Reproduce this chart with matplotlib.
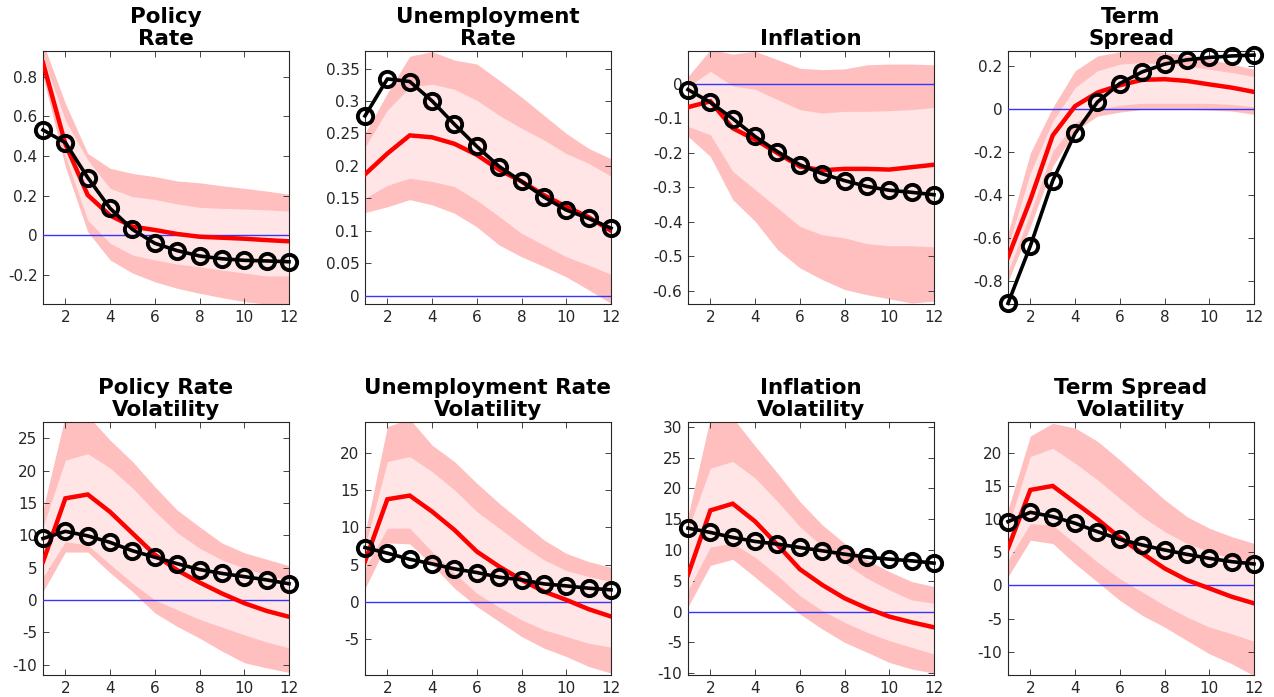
import matplotlib
matplotlib.use("Agg")
import matplotlib.pyplot as plt
from matplotlib.ticker import MultipleLocator, FuncFormatter

plt.rcParams.update({"font.family": "DejaVu Sans", "axes.unicode_minus": False})

# horizon
h = list(range(1, 13))

# Policy rate
pr_black = [0.531, 0.467, 0.291, 0.136, 0.030, -0.040, -0.077, -0.104, -0.118, -0.126, -0.129, -0.133]
pr_red = [0.870, 0.460, 0.203, 0.100, 0.044, 0.027, 0.007, -0.007, -0.012, -0.017, -0.024, -0.030]
pr_out_hi = [0.970, 0.665, 0.413, 0.338, 0.312, 0.296, 0.274, 0.265, 0.250, 0.237, 0.223, 0.207]
pr_in_hi = [0.900, 0.580, 0.380, 0.237, 0.195, 0.181, 0.158, 0.141, 0.136, 0.133, 0.128, 0.123]
pr_in_lo = [0.840, 0.400, 0.077, -0.040, -0.099, -0.124, -0.145, -0.158, -0.175, -0.190, -0.205, -0.205]
pr_out_lo = [0.800, 0.346, 0.018, -0.124, -0.190, -0.234, -0.267, -0.292, -0.314, -0.334, -0.346, -0.351]

# Unemployment rate
ur_black = [0.277, 0.334, 0.330, 0.300, 0.264, 0.230, 0.199, 0.176, 0.152, 0.132, 0.119, 0.104]
ur_red = [0.187, 0.219, 0.247, 0.244, 0.234, 0.217, 0.194, 0.176, 0.155, 0.137, 0.121, 0.100]
ur_out_hi = [0.250, 0.312, 0.369, 0.376, 0.363, 0.357, 0.332, 0.306, 0.278, 0.250, 0.227, 0.211]
ur_in_hi = [0.229, 0.286, 0.321, 0.326, 0.318, 0.301, 0.278, 0.258, 0.240, 0.219, 0.204, 0.184]
ur_in_lo = [0.150, 0.170, 0.181, 0.176, 0.168, 0.147, 0.122, 0.096, 0.078, 0.060, 0.047, 0.033]
ur_out_lo = [0.128, 0.137, 0.148, 0.140, 0.127, 0.106, 0.078, 0.060, 0.045, 0.029, 0.009, -0.012]

# Inflation
inf_black = [-0.017, -0.054, -0.101, -0.153, -0.197, -0.235, -0.261, -0.281, -0.298, -0.309, -0.315, -0.322]
inf_red = [-0.068, -0.051, -0.129, -0.162, -0.201, -0.240, -0.251, -0.247, -0.247, -0.249, -0.242, -0.235]
inf_out_hi = [0.021, 0.099, 0.086, 0.094, 0.070, 0.045, 0.041, 0.043, 0.055, 0.057, 0.057, 0.055]
inf_in_hi = [-0.008, 0.036, -0.006, -0.016, -0.046, -0.075, -0.085, -0.080, -0.080, -0.078, -0.075, -0.069]
inf_in_lo = [-0.124, -0.148, -0.254, -0.307, -0.360, -0.414, -0.438, -0.447, -0.464, -0.470, -0.470, -0.473]
inf_out_lo = [-0.153, -0.211, -0.336, -0.399, -0.481, -0.534, -0.568, -0.597, -0.612, -0.624, -0.636, -0.631]

# Term spread
ts_black = [-0.904, -0.637, -0.334, -0.115, 0.031, 0.117, 0.171, 0.207, 0.227, 0.238, 0.245, 0.249]
ts_red = [-0.690, -0.423, -0.124, 0.012, 0.075, 0.109, 0.134, 0.137, 0.129, 0.113, 0.098, 0.078]
ts_out_hi = [-0.578, -0.205, 0.005, 0.176, 0.245, 0.264, 0.269, 0.261, 0.249, 0.230, 0.207, 0.183]
ts_in_hi = [-0.640, -0.298, -0.058, 0.098, 0.176, 0.207, 0.214, 0.207, 0.199, 0.183, 0.168, 0.149]
ts_in_lo = [-0.756, -0.485, -0.197, -0.065, -0.003, 0.016, 0.025, 0.025, 0.025, 0.025, 0.020, 0.009]
ts_out_lo = [-0.803, -0.547, -0.267, -0.104, -0.034, -0.016, -0.003, -0.003, -0.003, -0.006, -0.011, -0.026]

# Policy rate volatility
prv_black = [9.5, 10.6, 9.9, 8.9, 7.6, 6.6, 5.6, 4.7, 4.1, 3.6, 3.1, 2.5]
prv_red = [5.9, 15.7, 16.3, 13.6, 10.3, 7.0, 4.6, 2.7, 1.0, -0.5, -1.7, -2.6]
prv_out_hi = [14.0, 28.5, 28.5, 24.7, 21.4, 17.5, 13.9, 11.3, 8.8, 7.3, 6.3, 5.3]
prv_in_hi = [11.3, 21.6, 22.6, 20.4, 17.3, 13.7, 10.4, 8.0, 6.2, 4.9, 3.9, 3.0]
prv_in_lo = [3.5, 9.0, 8.5, 5.5, 2.6, 0.0, -1.5, -3.0, -4.2, -5.4, -6.5, -7.4]
prv_out_lo = [1.3, 7.4, 7.4, 4.2, 1.3, -2.0, -4.1, -5.9, -7.9, -9.7, -10.5, -11.2]

# Unemployment rate volatility
urv_black = [7.28, 6.52, 5.71, 5.09, 4.42, 3.93, 3.30, 2.95, 2.41, 2.14, 1.83, 1.61]
urv_red = [5.4, 13.75, 14.24, 12.1, 9.64, 6.74, 4.73, 2.95, 1.38, 0.27, -0.98, -1.96]
urv_out_hi = [9.2, 23.5, 24.5, 21.0, 18.8, 15.9, 13.2, 10.76, 8.3, 6.5, 5.4, 4.64]
urv_in_hi = [7.4, 18.8, 19.46, 17.45, 15.0, 12.1, 9.87, 7.63, 5.63, 4.2, 3.39, 2.72]
urv_in_lo = [4.5, 9.87, 9.87, 6.74, 3.84, 1.16, -0.71, -2.41, -3.75, -4.64, -5.54, -6.07]
urv_out_lo = [1.8, 7.9, 7.77, 4.96, 1.83, -0.63, -2.63, -4.64, -6.2, -7.32, -8.66, -9.55]

# Inflation volatility
infv_black = [13.56, 12.86, 12.05, 11.4, 10.96, 10.42, 9.88, 9.33, 8.84, 8.52, 8.25, 7.87]
infv_red = [5.97, 16.44, 17.53, 14.65, 10.85, 6.89, 4.34, 2.17, 0.54, -0.81, -1.74, -2.55]
infv_out_hi = [15.5, 31.5, 31.5, 26.9, 22.5, 17.9, 14.1, 11.1, 8.4, 6.5, 4.88, 4.07]
infv_in_hi = [13.3, 23.3, 24.4, 21.7, 17.9, 13.8, 10.6, 7.87, 5.43, 3.53, 1.9, 1.36]
infv_in_lo = [3.5, 10.5, 11.1, 8.84, 5.86, 2.6, 0.16, -1.74, -3.36, -4.72, -5.8, -6.9]
infv_out_lo = [0.8, 7.5, 8.5, 5.6, 2.6, -0.38, -2.82, -5.0, -6.6, -8.25, -9.33, -10.0]

# Term spread volatility
tsv_black = [9.6, 11.0, 10.35, 9.35, 8.09, 6.93, 6.08, 5.33, 4.67, 4.07, 3.57, 3.22]
tsv_red = [5.58, 14.37, 14.97, 12.46, 9.95, 7.19, 4.82, 2.56, 0.8, -0.45, -1.71, -2.71]
tsv_out_hi = [11.4, 22.5, 24.4, 23.7, 21.7, 18.9, 15.9, 12.9, 10.35, 8.6, 7.34, 6.33]
tsv_in_hi = [8.8, 19.4, 20.65, 18.4, 15.9, 13.1, 10.35, 8.09, 6.33, 5.08, 4.07, 3.57]
tsv_in_lo = [3.8, 9.3, 9.05, 6.3, 3.5, 1.0, -1.0, -3.0, -4.77, -6.28, -7.29, -8.4]
tsv_out_lo = [1.3, 6.8, 6.3, 3.27, 0.5, -2.26, -4.52, -6.28, -8.3, -10.3, -11.8, -13.6]

titles = ["Policy\nRate", "Unemployment\nRate", "Inflation", "Term\nSpread",
          "Policy Rate\nVolatility", "Unemployment Rate\nVolatility",
          "Inflation\nVolatility", "Term Spread\nVolatility"]

series = [
    (pr_black, pr_red, pr_out_lo, pr_out_hi, pr_in_lo, pr_in_hi),
    (ur_black, ur_red, ur_out_lo, ur_out_hi, ur_in_lo, ur_in_hi),
    (inf_black, inf_red, inf_out_lo, inf_out_hi, inf_in_lo, inf_in_hi),
    (ts_black, ts_red, ts_out_lo, ts_out_hi, ts_in_lo, ts_in_hi),
    (prv_black, prv_red, prv_out_lo, prv_out_hi, prv_in_lo, prv_in_hi),
    (urv_black, urv_red, urv_out_lo, urv_out_hi, urv_in_lo, urv_in_hi),
    (infv_black, infv_red, infv_out_lo, infv_out_hi, infv_in_lo, infv_in_hi),
    (tsv_black, tsv_red, tsv_out_lo, tsv_out_hi, tsv_in_lo, tsv_in_hi),
]

# y-limits and tick step per panel
ylims = [(-0.346, 0.929), (-0.0128, 0.377), (-0.639, 0.095), (-0.907, 0.268),
         (-11.6, 27.5), (-9.8, 24.1), (-10.3, 30.8), (-13.5, 24.6)]
ysteps = [0.2, 0.05, 0.1, 0.2, 5, 5, 5, 5]

W, H = 1274, 697
lefts = [43, 365, 688, 1008]
tops = [51, 422]
aw, ah = 246, 253

INK = "#262626"
OUTER = "#ffbfbf"
INNER = "#ffe5e5"

fig = plt.figure(figsize=(W / 100, H / 100), dpi=100)

for k, (title, s) in enumerate(zip(titles, series)):
    row, col = divmod(k, 4)
    x0 = lefts[col] / W
    y0 = (H - tops[row] - ah) / H
    ax = fig.add_axes([x0, y0, aw / W, ah / H])
    black, red, out_lo, out_hi, in_lo, in_hi = s

    ax.fill_between(h, out_lo, out_hi, color=OUTER, lw=0, zorder=1)
    ax.fill_between(h, in_lo, in_hi, color=INNER, lw=0, zorder=2)
    ax.plot([1, 12], [0, 0], color="#3535ff", lw=1.0, zorder=3)
    ax.plot(h, red, color="#ff0000", lw=3.2, zorder=4, solid_joinstyle="miter")
    ax.plot(h, black, color="black", lw=2.6, marker="o", ms=11, mew=2.8,
            mfc="none", mec="black", zorder=5, clip_on=False)

    ax.set_xlim(1, 12)
    ax.set_ylim(*ylims[k])
    ax.xaxis.set_major_locator(MultipleLocator(2))
    ax.yaxis.set_major_locator(MultipleLocator(ysteps[k]))
    ax.yaxis.set_major_formatter(FuncFormatter(lambda v, p: "%g" % round(v, 4) if abs(v) > 1e-9 else "0"))
    ax.tick_params(direction="in", top=True, right=True, length=4, width=0.6,
                   color=INK, labelcolor=INK, labelsize=11, pad=4)
    for sp in ax.spines.values():
        sp.set_color(INK)
        sp.set_linewidth(0.8)
    ax.set_title(title, fontsize=15.5, fontweight="bold", color="black",
                 pad=4, linespacing=1.15)

fig.savefig("out.png", dpi=100)
